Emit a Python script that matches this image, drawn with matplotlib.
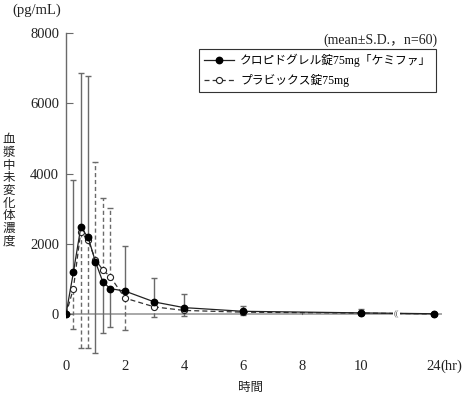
import matplotlib
matplotlib.use("Agg")
import matplotlib.pyplot as plt
import numpy as np

plt.rcParams["font.family"] = ["Liberation Serif", "Noto Sans CJK JP"]

# sampling times (hr); 24 hr is drawn after an axis break
times = [0, 0.25, 0.5, 0.75, 1, 1.25, 1.5, 2, 3, 4, 6, 10, 24]
tick_vals = [0, 2, 4, 6, 8, 10, 24]

# クロピドグレル錠75mg「ケミファ」 (filled)
test_mean = [0, 1190, 2470, 2190, 1490, 920, 730, 660, 350, 190, 85, 40, 15]
test_sd = [0, 2640, 4385, 4590, 2590, 1440, 1090, 1270, 690, 390, 160, 120, 25]
test_dir = [1, 1, 1, 1, -1, -1, -1, 1, 1, 1, 1, 1, 1]   # +SD up / -SD down

# プラビックス錠75mg (open)
ref_mean = [0, 730, 2350, 2100, 1550, 1260, 1070, 460, 210, 110, 60, 35, 10]
ref_sd = [0, 1150, 3320, 3070, 2770, 2050, 1940, 915, 290, 170, 80, 60, 15]
ref_dir = [-1, -1, -1, -1, 1, 1, 1, -1, -1, -1, -1, -1, -1]

BREAK_POS = 12.47   # where 24 hr sits on the compressed axis


def xpos(t):
    return np.array([BREAK_POS if v == 24 else v for v in t], dtype=float)


def split_err(sd, d):
    sd = np.array(sd, dtype=float)
    d = np.array(d)
    return np.vstack([np.where(d < 0, sd, 0), np.where(d > 0, sd, 0)])


fig = plt.figure(figsize=(4.67, 3.95), dpi=100)
ax = fig.add_axes([66 / 467, 35 / 395, 376 / 467, 327 / 395])

x = xpos(times)
gray = "#6a6a6a"

e1 = ax.errorbar(x, test_mean, yerr=split_err(test_sd, test_dir), fmt="none",
                 ecolor=gray, elinewidth=1.0, capsize=2.2, capthick=1.0, zorder=2)
e2 = ax.errorbar(x, ref_mean, yerr=split_err(ref_sd, ref_dir), fmt="none",
                 ecolor=gray, elinewidth=1.0, capsize=2.2, capthick=1.0, zorder=2)
for c in e2[2]:
    c.set_linestyle((0, (3, 2)))

ax.axhline(0, color="#9a9a9a", lw=1.2, zorder=1)

ax.plot(x, ref_mean, color="#333333", ls=(0, (4, 2.5)), lw=0.9,
        marker="o", ms=4.4, mfc="white", mec="#222222", mew=0.8, zorder=3,
        label="プラビックス錠75mg")
ax.plot(x, test_mean, color="#222222", ls="-", lw=0.9,
        marker="o", ms=4.6, mfc="black", mec="black", zorder=4,
        label="クロピドグレル錠75mg「ケミファ」")

# axis break mark between 10 and 24
ax.text(11.2, 0, "((", fontsize=6, ha="center", va="center", color="#555555",
        bbox=dict(boxstyle="square,pad=0.1", fc="white", ec="none"), zorder=5)

ax.set_xlim(0, 12.75)
ax.set_ylim(-1300, 8000)
for s in ["top", "right", "bottom"]:
    ax.spines[s].set_visible(False)
ax.spines["left"].set_bounds(0, 8000)
ax.spines["left"].set_color(gray)
ax.spines["left"].set_linewidth(1.0)

ax.set_yticks([0, 2000, 4000, 6000, 8000])
ax.tick_params(axis="y", direction="in", length=5, color=gray, labelsize=10.5,
               pad=5, labelcolor="#222222")
ax.set_xticks(xpos(tick_vals))
ax.set_xticklabels([str(v) for v in tick_vals])
ax.tick_params(axis="x", length=0, labelsize=10.5, pad=0, labelcolor="#222222")
for v in [2, 4, 6, 8, 10]:
    ax.plot([v, v], [0, 70], color=gray, lw=0.8, zorder=1)
ax.text(BREAK_POS + 0.24, -1300, "(hr)", fontsize=10.5, ha="left", va="top",
        color="#222222")

handles, labels = ax.get_legend_handles_labels()
leg = ax.legend(handles[::-1], labels[::-1], loc="upper right",
                bbox_to_anchor=(1.0, 0.97), fontsize=8.5, frameon=True,
                fancybox=False, edgecolor="#333333", framealpha=1,
                handlelength=2.6, borderpad=0.4, labelspacing=0.6,
                handletextpad=0.5)
leg.get_frame().set_linewidth(0.8)

fig.text(438 / 467, 1 - 40 / 395, "(mean±S.D.，n=60)", fontsize=10,
         ha="right", va="center", color="#222222")
fig.text(37 / 467, 1 - 10 / 395, "(pg/mL)", fontsize=10.5, ha="center",
         va="center", color="#222222")
fig.text(9 / 467, 1 - 191 / 395, "\n".join("血漿中未変化体濃度"), fontsize=9,
         ha="center", va="center", linespacing=1.08, color="#222222")
fig.text(251 / 467, 1 - 388 / 395, "時間", fontsize=9, ha="center",
         va="center", color="#222222")

fig.savefig("out.png", dpi=100)
